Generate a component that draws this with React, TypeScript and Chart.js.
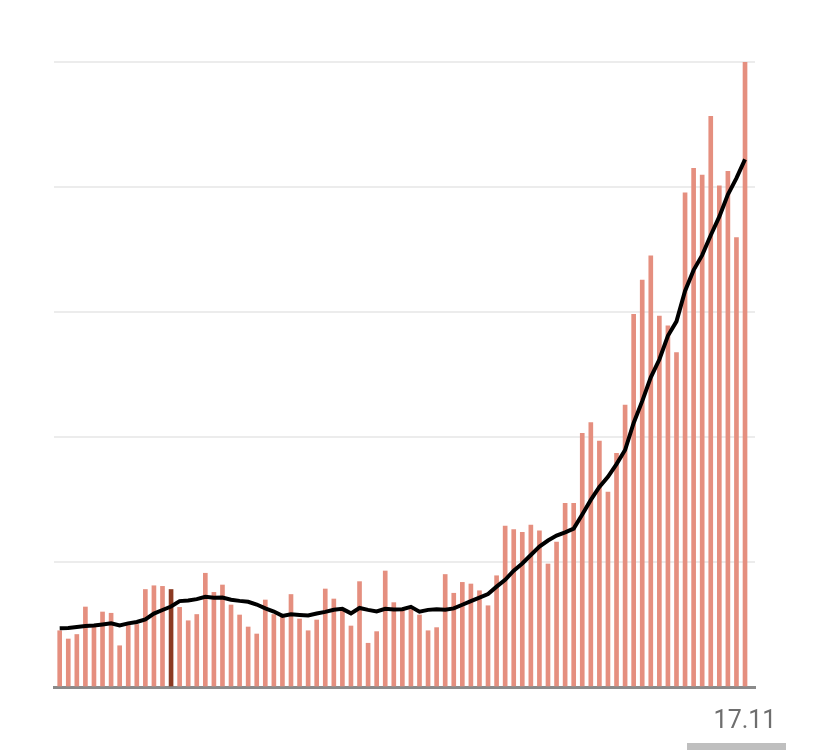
import React, { useEffect, useRef } from "react";
import { Chart, registerables } from "chart.js";

Chart.register(...registerables);

const categories = [
  "29.08", "30.08", "31.08",
  "01.09", "02.09", "03.09", "04.09", "05.09", "06.09", "07.09", "08.09", "09.09", "10.09",
  "11.09", "12.09", "13.09", "14.09", "15.09", "16.09", "17.09", "18.09", "19.09", "20.09",
  "21.09", "22.09", "23.09", "24.09", "25.09", "26.09", "27.09", "28.09", "29.09", "30.09",
  "01.10", "02.10", "03.10", "04.10", "05.10", "06.10", "07.10", "08.10", "09.10", "10.10",
  "11.10", "12.10", "13.10", "14.10", "15.10", "16.10", "17.10", "18.10", "19.10", "20.10",
  "21.10", "22.10", "23.10", "24.10", "25.10", "26.10", "27.10", "28.10", "29.10", "30.10", "31.10",
  "01.11", "02.11", "03.11", "04.11", "05.11", "06.11", "07.11", "08.11", "09.11", "10.11",
  "11.11", "12.11", "13.11", "14.11", "15.11", "16.11", "17.11",
];

const dailyValues = [
  45, 38.4, 42, 64, 48, 60, 59, 33, 50, 50,
  78, 81, 80.5, 78, 63.7, 53, 58, 91, 75.7, 81.6,
  65.6, 57.6, 48, 42.4, 69.6, 58, 57, 74, 54.4, 45,
  53.6, 78.4, 70.4, 61.6, 48.8, 84.3, 35, 44.3, 92.8, 67.5,
  63, 62, 57.6, 45, 47.5, 90, 75, 83.7, 82.4, 77,
  65, 89, 128.8, 126, 123.7, 129.6, 125, 98.4, 116, 147,
  147, 203, 211.5, 196.8, 156, 187, 225.6, 298.2, 325.6, 345,
  296.7, 289, 267.5, 395.4, 415, 409.6, 456.6, 401, 412.6, 359.6,
  500,
];

const averageValues = [
  47, 47.2, 48, 48.8, 49.2, 50, 50.9, 49.2, 50.9, 52,
  54, 58.7, 61.6, 64.4, 68.7, 69.2, 70.3, 72.2, 71.4, 71.6,
  69.8, 68.9, 68.2, 66, 62.9, 60.4, 56.9, 58.1, 57.6, 57.2,
  58.8, 60.1, 61.8, 62.5, 58.9, 63.2, 61.7, 60.4, 62.5, 62,
  62.2, 64.1, 60.3, 61.7, 62.2, 61.8, 62.9, 65.8, 68.7, 71.5,
  74.4, 80.3, 85.8, 93.1, 98.8, 105.6, 112.4, 117.2, 121.1, 123.7,
  126.7, 138, 149.7, 160, 168.2, 178.3, 189.6, 211.2, 228.7, 247.7,
  262, 281, 292.5, 316.8, 333.5, 345.5, 361.4, 376.3, 394, 407.1,
  422.1,
];

const tickLabels = ["17.11"];
const highlightedDay = "11.09";
const yTicks = [0, 100, 200, 300, 400, 500];

const BAR_COLOR = "#e58f7f";
const HIGHLIGHT_COLOR = "#8b3a22";

const tickLabelPlugin = {
  id: "tickLabelPlugin",
  afterDraw(chart: any) {
    const xs = chart.scales.x;
    const ctx = chart.ctx;
    ctx.save();
    ctx.font = '400 25px "Roboto", "Open Sans", sans-serif';
    ctx.fillStyle = "#6e6e6e";
    ctx.textAlign = "center";
    ctx.textBaseline = "middle";
    tickLabels.forEach((lab) => {
      const idx = categories.indexOf(lab);
      if (idx < 0) return;
      const x = xs.getPixelForValue(idx + 1);
      ctx.fillText(lab, x, chart.chartArea.bottom + 35);
    });
    ctx.restore();
  },
};

export default function App() {
  const canvasRef = useRef<HTMLCanvasElement | null>(null);

  useEffect(() => {
    if (!canvasRef.current) return;
    const barData = dailyValues.map((v, i) => ({ x: i + 1, y: v }));
    const lineData = averageValues.map((v, i) => ({ x: i + 1, y: v }));
    const barColors = categories.map((c) => (c === highlightedDay ? HIGHLIGHT_COLOR : BAR_COLOR));

    const chart = new Chart(canvasRef.current, {
      type: "bar",
      data: {
        datasets: [
          {
            type: "line",
            label: "7-day average",
            data: lineData,
            borderColor: "#000000",
            borderWidth: 4,
            pointRadius: 0,
            tension: 0,
            fill: false,
            order: 0,
          } as any,
          {
            type: "bar",
            label: "Daily",
            data: barData,
            backgroundColor: barColors,
            borderWidth: 0,
            barThickness: 4,
            order: 1,
          } as any,
        ],
      },
      options: {
        animation: false,
        responsive: true,
        maintainAspectRatio: false,
        layout: { padding: { left: 54, right: 85, top: 62, bottom: 63 } },
        plugins: { legend: { display: false }, tooltip: { enabled: false } },
        scales: {
          x: {
            type: "linear",
            offset: false,
            min: 0.335,
            max: 82.165,
            bounds: "ticks",
            grid: { display: false, drawTicks: false, offset: false },
            border: { display: true, color: "#8a8a8a", width: 3 },
            ticks: { display: false },
          },
          y: {
            min: 0,
            max: 500,
            afterBuildTicks: (scale: any) => {
              scale.ticks = yTicks.map((v) => ({ value: v }));
            },
            grid: {
              drawTicks: false,
              lineWidth: 2,
              color: (ctx: any) => (ctx.tick && ctx.tick.value === 0 ? "rgba(0,0,0,0)" : "#ececec"),
            },
            border: { display: false },
            ticks: { display: false },
          },
        },
      },
      plugins: [tickLabelPlugin],
    });
    return () => chart.destroy();
  }, []);

  return (
    <div
      style={{
        position: "fixed",
        left: 0,
        top: 0,
        width: 840,
        height: 750,
        background: "#ffffff",
        overflow: "hidden",
      }}
    >
      <canvas ref={canvasRef} />
      <div
        style={{
          position: "absolute",
          left: 687,
          top: 743,
          width: 99,
          height: 10,
          background: "#bfbfbf",
        }}
      />
    </div>
  );
}
